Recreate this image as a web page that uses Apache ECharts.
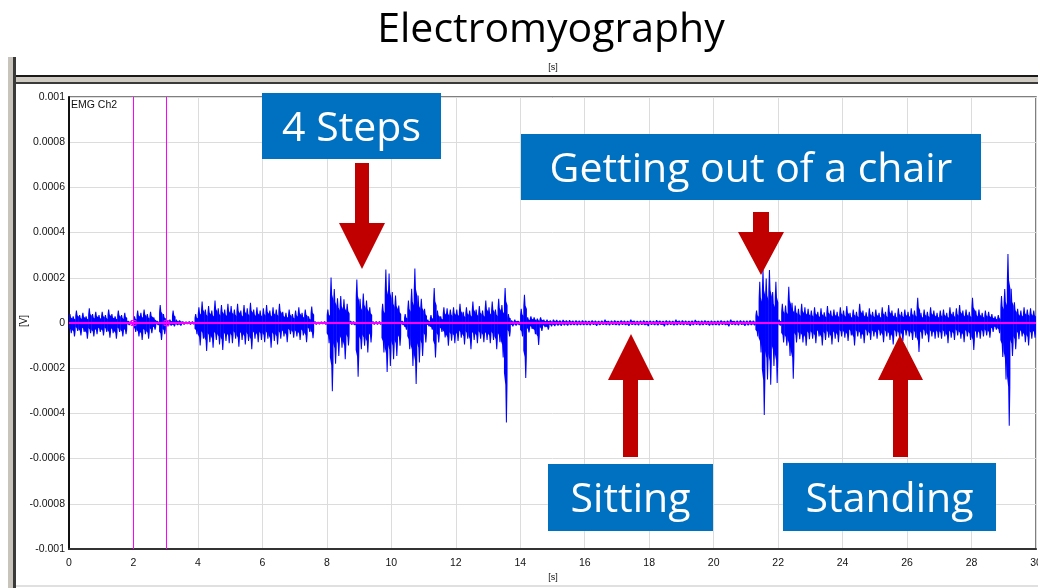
<!DOCTYPE html>
<html><head><meta charset="utf-8">
<script src="https://cdn.jsdelivr.net/npm/echarts@6/dist/echarts.min.js"></script>
<style>html,body{margin:0;padding:0;background:#fff}#c{width:1038px;height:588px}</style>
</head><body><div id="c"></div>
<script>
// ---- data (amplitudes in microvolts, one upper and one lower excursion per 0.1 s) ----
const timeMin = 0, timeMax = 30, timeStep = 2;
const voltMin = -1000, voltMax = 1000, voltStep = 200; // µV
const sampleStep = 0.1; // s
const cursorTimes = [2, 3];
const emgUpper = [
  40, 30, 55, 35, 45, 30, 65, 40, 50, 35,
  50, 35, 60, 40, 30, 55, 35, 45, 10, 8,
  30, 55, 45, 60, 40, 50, 25, 10, 80, 40,
  12, 15, 55, 15, 12, 8, 7, 8, 8, 40,
  70, 95, 60, 75, 55, 100, 65, 80, 60, 85,
  75, 60, 85, 55, 80, 65, 90, 60, 70, 55,
  65, 80, 55, 70, 60, 85, 50, 45, 60, 40,
  55, 70, 45, 60, 30, 73, 8, 6, 7, 8,
  60, 201, 150, 110, 120, 105, 85, 10, 8, 192,
  107, 130, 100, 70, 8, 8, 8, 85, 237, 219,
  137, 122, 77, 10, 40, 100, 152, 241, 122, 107,
  63, 15, 35, 155, 55, 30, 70, 65, 60, 70,
  60, 85, 50, 70, 55, 95, 60, 75, 55, 100,
  70, 95, 60, 107, 80, 155, 40, 12, 15, 10,
  63, 125, 25, 30, 25, 20, 25, 15, 15, 12,
  16, 14, 12, 14, 12, 13, 11, 12, 11, 12,
  11, 10, 12, 11, 10, 11, 15, 10, 11, 12,
  10, 12, 11, 10, 16, 11, 10, 11, 12, 10,
  11, 10, 13, 11, 10, 12, 11, 10, 15, 11,
  12, 11, 10, 11, 14, 10, 11, 12, 10, 11,
  10, 11, 12, 10, 11, 16, 10, 11, 12, 11,
  11, 12, 11, 55, 182, 234, 197, 234, 137, 182,
  15, 85, 77, 160, 90, 77, 63, 85, 70, 63,
  55, 70, 50, 65, 48, 75, 55, 60, 50, 70,
  55, 75, 45, 60, 50, 85, 55, 48, 65, 50,
  60, 45, 70, 50, 80, 55, 45, 65, 50, 60,
  50, 65, 55, 112, 45, 60, 50, 70, 55, 45,
  55, 60, 45, 70, 50, 65, 80, 55, 60, 50,
  112, 55, 60, 45, 55, 50, 40, 30, 35, 120,
  150, 305, 152, 92, 63, 55, 70, 60, 65, 55
];
const emgLower = [
  -45, -60, -35, -55, -40, -70, -45, -60, -50, -40,
  -55, -40, -65, -45, -70, -40, -60, -50, -10, -8,
  -40, -60, -75, -50, -70, -45, -30, -10, -75, -50,
  -15, -12, -15, -10, -12, -8, -6, -8, -7, -50,
  -100, -70, -124, -85, -110, -75, -95, -120, -80, -90,
  -90, -70, -105, -75, -95, -80, -116, -70, -85, -75,
  -85, -70, -109, -80, -95, -70, -60, -85, -50, -65,
  -60, -75, -55, -85, -40, -68, -8, -7, -6, -8,
  -90, -302, -180, -146, -110, -160, -100, -8, -10, -238,
  -116, -101, -131, -86, -8, -8, -8, -131, -217, -190,
  -160, -146, -101, -10, -30, -116, -190, -270, -175, -146,
  -86, -15, -30, -153, -86, -40, -64, -101, -79, -90,
  -80, -65, -95, -70, -116, -75, -90, -70, -85, -75,
  -90, -75, -116, -85, -153, -440, -60, -15, -12, -10,
  -60, -243, -42, -27, -50, -97, -35, -19, -30, -15,
  -14, -12, -13, -11, -12, -10, -10, -11, -10, -10,
  -10, -11, -9, -13, -10, -9, -10, -11, -9, -10,
  -11, -9, -10, -13, -9, -10, -11, -9, -10, -14,
  -9, -10, -11, -9, -15, -10, -9, -11, -10, -9,
  -10, -9, -13, -10, -9, -11, -10, -9, -12, -10,
  -10, -11, -9, -10, -15, -9, -10, -11, -9, -13,
  -11, -10, -11, -60, -131, -407, -250, -273, -190, -265,
  -12, -86, -101, -146, -247, -86, -72, -86, -101, -72,
  -70, -90, -60, -100, -75, -65, -95, -70, -85, -60,
  -65, -80, -55, -100, -60, -70, -90, -55, -75, -60,
  -70, -55, -85, -60, -75, -95, -60, -70, -80, -55,
  -60, -75, -65, -128, -70, -55, -85, -60, -70, -65,
  -70, -60, -90, -65, -75, -55, -70, -85, -60, -75,
  -120, -65, -70, -60, -55, -65, -40, -30, -45, -150,
  -250, -455, -146, -116, -72, -60, -85, -100, -70, -65
];
const labels = ['4 Steps', 'Getting out of a chair', 'Sitting', 'Standing'];

// ---- build ----
const emgData = emgUpper.map((v, i) => [+(i * sampleStep).toFixed(2), v, emgLower[i]]);
const MAG = '#ff00ff';
const EMG = '#0000ff';

const axisFont = "'Liberation Sans', Arial, sans-serif";
const annoFont = "41px 'Open Sans'";
const BLUE = '#0070c0', RED = '#c00000';

function box(x, y, w, h, text) {
  return [
    {type:'rect', z:100, shape:{x, y, width:w, height:h}, style:{fill:BLUE}},
    {type:'text', z:101, x:x + w/2, y:y + h/2 + 3, style:{text, font:annoFont, fill:'#fff', textAlign:'center', textVerticalAlign:'middle'}}
  ];
}
function poly(points) { return {type:'polygon', z:100, shape:{points}, style:{fill:RED}}; }

// glyph for one 0.1 s bin of a min/max trace: a solid body with a thin needle reaching the excursion
function halfGlyph(x0, w, zeroY, xTip, yTip) {
  const yBody = zeroY + (yTip - zeroY) * 0.5;
  const yNeck = zeroY + (yTip - zeroY) * 0.62;
  return {type:'polygon', shape:{points:[
    [x0 - 0.2, zeroY], [x0 - 0.2, yBody], [xTip - 1.1, yNeck], [xTip - 0.5, yTip],
    [xTip + 0.5, yTip], [xTip + 1.1, yNeck], [x0 + w + 0.2, yBody], [x0 + w + 0.2, zeroY]
  ]}, style:{fill:EMG}};
}
function renderEmg(params, api) {
  const t = api.value(0), hi = api.value(1), lo = api.value(2);
  const pTop = api.coord([t, hi]);
  const pBot = api.coord([t, lo]);
  const zeroY = api.coord([t, 0])[1];
  const w = api.size([sampleStep, 0])[0];
  const x0 = pTop[0];
  return {type:'group', children:[
    halfGlyph(x0, w, zeroY, x0 + w * 0.3, pTop[1]),
    halfGlyph(x0, w, zeroY, x0 + w * 0.7, pBot[1])
  ]};
}
function renderCursor(params, api) {
  const t = api.value(0);
  const top = api.coord([t, voltMax]), bot = api.coord([t, voltMin]), mid = api.coord([t, 0]);
  const x = Math.round(top[0]);
  return {type:'group', children:[
    {type:'rect', shape:{x:x, y:top[1], width:1, height:bot[1] - top[1]}, style:{fill:MAG}},
    {type:'rect', shape:{x:x - 2, y:Math.round(mid[1]) - 2.5, width:5, height:5}, style:{fill:'none', stroke:MAG, lineWidth:1}}
  ]};
}

const chart = echarts.init(document.getElementById('c'), null, {renderer:'canvas'});
chart.setOption({
  animation:false,
  backgroundColor:'#fff',
  grid:{left:69, top:97, right:2, bottom:39, containLabel:false, outerBoundsMode:'none', show:true, borderColor:'#555', borderWidth:1.5, backgroundColor:'#fff'},
  xAxis:{type:'value', min:timeMin, max:timeMax, interval:timeStep,
    axisLine:{show:true, onZero:false, lineStyle:{color:'#333', width:2}},
    axisTick:{show:false},
    splitLine:{show:true, lineStyle:{color:'#dcdcdc', width:1}},
    axisLabel:{margin:9, fontSize:10.5, color:'#111', fontFamily:axisFont, showMaxLabel:true, showMinLabel:true, hideOverlap:false}
  },
  yAxis:{type:'value', min:voltMin, max:voltMax, interval:voltStep,
    axisLine:{show:true, onZero:false, lineStyle:{color:'#111', width:2}},
    axisTick:{show:false},
    splitLine:{show:true, lineStyle:{color:'#dcdcdc', width:1}},
    axisLabel:{margin:4, fontSize:10.5, color:'#111', fontFamily:axisFont, formatter:v => String(v / 1e6)}
  },
  series:[
    {type:'custom', data:emgData, renderItem:renderEmg, encode:{x:0, y:[1, 2]}, z:2, silent:true, clip:true},
    {type:'line', data:[[timeMin, 0], [timeMax, 0]], showSymbol:false, symbol:'none', z:4, silent:true,
     lineStyle:{color:MAG, width:2}, emphasis:{disabled:true}},
    {type:'custom', data:cursorTimes.map(t => [t]), renderItem:renderCursor, encode:{x:0}, z:10, silent:true}
  ],
  graphic:{elements:[
    // window chrome
    {type:'rect', shape:{x:8, y:57, width:5, height:531}, style:{fill:'#c8c4bc'}},
    {type:'rect', shape:{x:13, y:57, width:3, height:531}, style:{fill:'#3a3a3a'}},
    {type:'rect', shape:{x:16, y:75, width:1022, height:2}, style:{fill:'#1a1a1a'}},
    {type:'rect', shape:{x:16, y:77, width:1022, height:5}, style:{fill:'#cfcbc3'}},
    {type:'rect', shape:{x:16, y:82, width:1022, height:2}, style:{fill:'#3a3a3a'}},
    {type:'rect', shape:{x:16, y:585, width:1022, height:2}, style:{fill:'#e0e0e0'}},
    // texts
    {type:'text', x:551, y:30, style:{text:'Electromyography', font:"41px 'Open Sans'", fill:'#000', textAlign:'center', textVerticalAlign:'middle'}},
    {type:'text', x:553, y:68, style:{text:'[s]', font:"9px " + axisFont, fill:'#111', textAlign:'center', textVerticalAlign:'middle'}},
    {type:'text', x:553, y:578, style:{text:'[s]', font:"9px " + axisFont, fill:'#111', textAlign:'center', textVerticalAlign:'middle'}},
    {type:'text', x:24, y:321, rotation:Math.PI/2, style:{text:'[V]', font:"10px " + axisFont, fill:'#111', textAlign:'center', textVerticalAlign:'middle'}},
    {type:'text', x:71, y:105, style:{text:'EMG Ch2', font:"10.5px " + axisFont, fill:'#111', textAlign:'left', textVerticalAlign:'middle'}},
    // annotations
    ...box(262, 93, 179, 66, labels[0]),
    ...box(521, 134, 460, 66, labels[1]),
    ...box(548, 464, 165, 67, labels[2]),
    ...box(783, 463, 213, 68, labels[3]),
    poly([[355,163],[369,163],[369,223],[385,223],[362,269],[339,223],[355,223]]),
    poly([[753,212],[769,212],[769,232],[784,232],[761,275],[738,232],[753,232]]),
    poly([[631,334],[654,380],[638,380],[638,457],[623,457],[623,380],[608,380]]),
    poly([[900,335],[923,380],[908,380],[908,457],[893,457],[893,380],[878,380]])
  ]}
});
</script></body></html>
